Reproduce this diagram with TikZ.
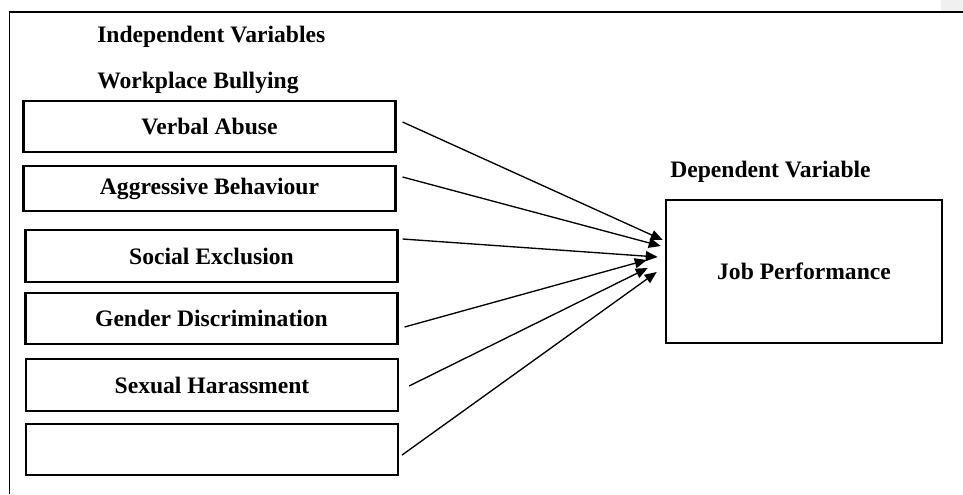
\documentclass[tikz,border=0pt]{standalone}
\usepackage{fontspec}
\setmainfont{Liberation Serif}
\usetikzlibrary{arrows.meta}

\begin{document}
\begin{tikzpicture}[x=0.75pt, y=-0.75pt,
          label font/.style={font=\bfseries\fontsize{17.7}{21}\selectfont},
          hdr/.style={label font, anchor=west, inner sep=0pt},
          varbox/.style={draw, line width=1.6pt, minimum width=279pt, inner sep=0pt, label font},
          arr/.style={-{Triangle[length=9pt,width=7.5pt]}, line width=1pt}]
        \useasboundingbox (0,0) rectangle (963,494);
        % outer frame
        \fill[gray!12] (941,0) rectangle (963,11);
        \draw[line width=1.2pt] (9.5,494) -- (9.5,12) -- (963,12);

        \node[hdr] (indep) at (97,37) {Independent Variables};
        \node[hdr] (wpb) at (97,83) {Workplace Bullying};
        \node[hdr] (dep) at (670,172) {Dependent Variable};

        \node[varbox, minimum height=38.25pt] (b1) at (209.5,126.5) {Verbal Abuse};
        \node[varbox, minimum height=33.75pt] (b2) at (209.5,188.5) {Aggressive Behaviour};
        \node[varbox, minimum height=39pt] (b3) at (211.5,256) {Social Exclusion};
        \node[varbox, minimum height=38.25pt] (b4) at (211.5,318.5) {Gender Discrimination};
        \node[varbox, minimum height=39pt] (b5) at (212,385) {Sexual Harassment};
        \node[varbox, minimum height=38.25pt] (b6) at (212,449.5) {};

        \node[draw, line width=1.9pt, minimum width=207pt, minimum height=107.25pt, label font] (jp) at (804,271.5) {Job Performance};

        \draw[arr] ([shift={(6,-4.5)}]b1.east) -- ([shift={(-2,-31.5)}]jp.west);
        \draw[arr] ([shift={(6,-11.5)}]b2.east) -- ([shift={(-4,-25.5)}]jp.west);
        \draw[arr] ([shift={(4,-17)}]b3.east) -- ([shift={(-7,-14.5)}]jp.west);
        \draw[arr] ([shift={(6,8.5)}]b4.east) -- ([shift={(-18,-11.5)}]jp.west);
        \draw[arr] ([shift={(10,1)}]b5.east) -- ([shift={(-17,-3.5)}]jp.west);
        \draw[arr] ([shift={(3,5.5)}]b6.east) -- ([shift={(-8,0.5)}]jp.west);
      \end{tikzpicture}
\end{document}
